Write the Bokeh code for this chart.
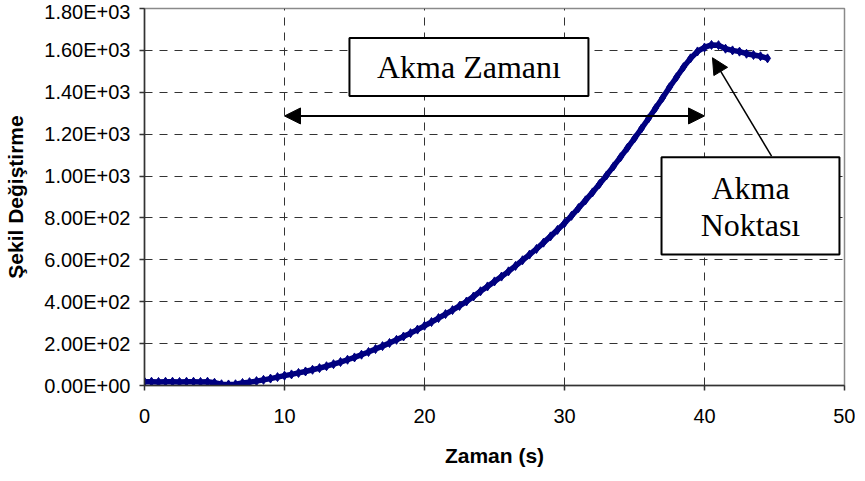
from bokeh.plotting import figure
from bokeh.models import Range1d, FixedTicker, Arrow, NormalHead, BoxAnnotation, Label
from bokeh.embed import file_html
from bokeh.resources import INLINE

# ---- data ----
time_s = [0, 0.5, 1, 1.5, 2, 2.5, 3, 3.5, 4, 4.5,
          5, 5.5, 6, 6.5, 7, 7.5, 8, 8.5, 9, 9.5,
          10, 10.5, 11, 11.5, 12, 12.5, 13, 13.5, 14, 14.5,
          15, 15.5, 16, 16.5, 17, 17.5, 18, 18.5, 19, 19.5,
          20, 20.5, 21, 21.5, 22, 22.5, 23, 23.5, 24, 24.5,
          25, 25.5, 26, 26.5, 27, 27.5, 28, 28.5, 29, 29.5,
          30, 30.5, 31, 31.5, 32, 32.5, 33, 33.5, 34, 34.5,
          35, 35.5, 36, 36.5, 37, 37.5, 38, 38.5, 39, 39.5,
          40, 40.5, 41, 41.5, 42, 42.5, 43, 43.5, 44, 44.5]
deformation = [18, 18, 17, 18, 18, 17, 18, 18, 17, 18,
               13, 6, 5, 6, 12, 16, 21, 27, 33, 40,
               47, 53, 60, 67, 75, 83, 92, 102, 112, 123,
               134, 147, 160, 174, 188, 203, 218, 234, 250, 267,
               285, 303, 322, 341, 360, 380, 401, 425, 450, 473,
               497, 520, 545, 571, 598, 625, 652, 682, 712, 743,
               775, 810, 847, 884, 922, 962, 1003, 1046, 1090, 1135,
               1180, 1227, 1275, 1324, 1373, 1424, 1472, 1520, 1562, 1595,
               1614, 1626, 1625, 1608, 1600, 1594, 1584, 1578, 1572, 1562]

x_ticks = [0, 10, 20, 30, 40, 50]
y_ticks = [0, 200, 400, 600, 800, 1000, 1200, 1400, 1600, 1800]
y_tick_labels = ["0.00E+00", "2.00E+02", "4.00E+02", "6.00E+02", "8.00E+02",
                 "1.00E+03", "1.20E+03", "1.40E+03", "1.60E+03", "1.80E+03"]

x_title = "Zaman (s)"
y_title = "Şekil Değiştirme"
label_time = "Akma Zamanı"
label_point = ["Akma", "Noktası"]

# ---- figure ----
p = figure(width=855, height=470, output_backend="svg", toolbar_location=None,
           x_range=Range1d(0, 50), y_range=Range1d(0, 1800),
           min_border_left=144, min_border_right=11, min_border_top=8,
           min_border_bottom=85, background_fill_color="white",
           border_fill_color="white")

p.outline_line_color = "#8a8a8a"
p.outline_line_width = 1.5

sans = "Liberation Sans"
serif = "Liberation Serif"

p.xaxis.ticker = FixedTicker(ticks=x_ticks)
p.yaxis.ticker = FixedTicker(ticks=y_ticks)
p.yaxis.major_label_overrides = {t: l for t, l in zip(y_ticks, y_tick_labels)}
p.xaxis.axis_label = x_title
p.yaxis.axis_label = y_title
for ax in (p.xaxis[0], p.yaxis[0]):
    ax.axis_line_color = "#333333"
    ax.axis_line_width = 1.5
    ax.major_tick_line_color = "#333333"
    ax.major_tick_line_width = 1.5
    ax.major_tick_out = 5
    ax.major_tick_in = 0
    ax.minor_tick_line_color = None
    ax.major_label_text_font = sans
    ax.major_label_text_font_size = "20px"
    ax.major_label_text_color = "black"
    ax.axis_label_text_font = sans
    ax.axis_label_text_font_size = "21px"
    ax.axis_label_text_font_style = "bold"
    ax.axis_label_text_color = "black"
p.xaxis.major_label_standoff = 18
p.xaxis.axis_label_standoff = 18
p.yaxis.major_label_standoff = 9
p.yaxis.axis_label_standoff = 14

p.xgrid.ticker = FixedTicker(ticks=x_ticks[1:-1])
p.ygrid.ticker = FixedTicker(ticks=y_ticks[1:-1])
for g in (p.xgrid[0], p.ygrid[0]):
    g.grid_line_color = "#333333"
    g.grid_line_dash = "8 7"
    g.grid_line_width = 1

# ---- series ----
navy = "#000080"
p.line(time_s, deformation, line_color=navy, line_width=5.5)
p.scatter(time_s, deformation, marker="diamond", size=9, fill_color=navy,
          line_color=navy)

# ---- annotations ----
# "Akma Zamanı" box
box1 = dict(left=14.64, right=31.71, bottom=1382, top=1659)
p.add_layout(BoxAnnotation(**box1, fill_color="white", fill_alpha=1.0,
                           line_color="black", line_width=2, line_alpha=1.0))
p.add_layout(Label(x=(box1["left"] + box1["right"]) / 2, y=(box1["bottom"] + box1["top"]) / 2,
                   text=label_time, text_align="center", text_baseline="middle",
                   text_font=serif, text_font_size="32px", text_color="black"))

# double arrow (Akma Zamanı span)
span_start, span_end, span_y = 10, 40, 1287
p.add_layout(Arrow(start=NormalHead(size=16, fill_color="black", line_color="black"),
                   end=NormalHead(size=16, fill_color="black", line_color="black"),
                   x_start=span_start, y_start=span_y, x_end=span_end, y_end=span_y,
                   line_color="black", line_width=2))

# "Akma Noktası" box
box2 = dict(left=36.93, right=49.64, bottom=625, top=1090)
p.add_layout(BoxAnnotation(**box2, fill_color="white", fill_alpha=1.0,
                           line_color="black", line_width=2, line_alpha=1.0))
cx2 = (box2["left"] + box2["right"]) / 2
p.add_layout(Label(x=cx2, y=943, text=label_point[0], text_align="center",
                   text_baseline="middle", text_font=serif, text_font_size="32px",
                   text_color="black"))
p.add_layout(Label(x=cx2, y=765, text=label_point[1], text_align="center",
                   text_baseline="middle", text_font=serif, text_font_size="32px",
                   text_color="black"))

# arrow to yield point
p.add_layout(Arrow(end=NormalHead(size=16, fill_color="black", line_color="black"),
                   x_start=44.79, y_start=1095, x_end=40.57, y_end=1565,
                   line_color="black", line_width=1.5))

open("out.html", "w").write(file_html(p, INLINE))
